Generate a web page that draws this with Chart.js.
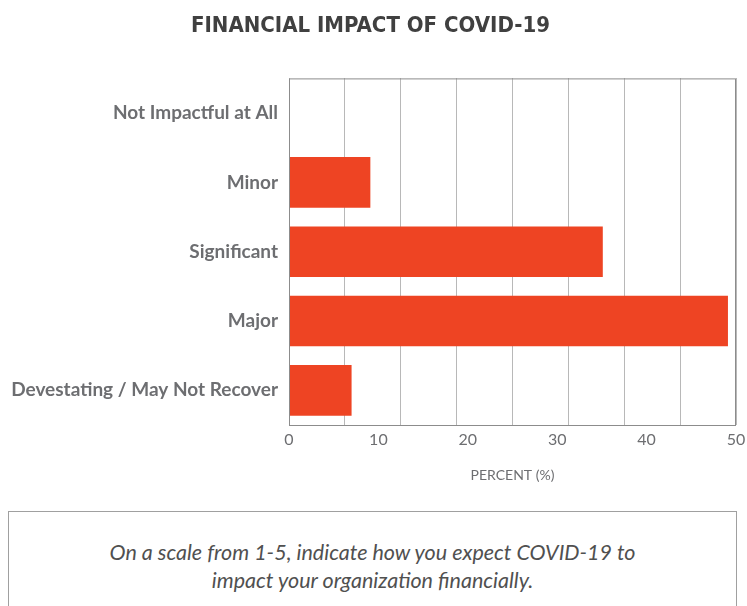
<!DOCTYPE html>
<html>
<head>
<meta charset="utf-8">
<script src="https://cdn.jsdelivr.net/npm/chart.js@4/dist/chart.umd.min.js"></script>
<style>
  body { margin: 0; background: #fff; }
  #wrap { position: relative; width: 747px; height: 606px; overflow: hidden; }
  #chart { position: absolute; left: 0; top: 0; }
  #note {
    position: absolute; left: 8px; top: 511px; width: 729px; height: 120px;
    border: 1px solid #a0a0a0; box-sizing: border-box;
    font-family: Lato, sans-serif; font-style: italic; font-size: 21.5px;
    color: #505050; text-align: center; line-height: 28px; padding-top: 26px;
  }
</style>
</head>
<body>
<div id="wrap">
  <canvas id="chart" width="747" height="500"></canvas>
  <div id="note">On a scale from 1-5, indicate how you expect COVID-19 to<br>impact your organization financially.</div>
</div>
<script>
const categories = ['Not Impactful at All', 'Minor', 'Significant', 'Major', 'Devestating / May Not Recover'];
const percents = [0, 9.1, 35.1, 49.1, 7.0];
const axisTicks = [0, 10, 20, 30, 40, 50];

const grey = '#6d6e71';

// frame around the plot area
const frame = {
  id: 'frame',
  afterDraw(chart) {
    const a = chart.chartArea, c = chart.ctx;
    c.save();
    c.strokeStyle = '#8c8c8c';
    c.lineWidth = 1;
    c.strokeRect(a.left + 0.5, a.top + 0.5, a.right - a.left - 1, a.bottom - a.top);
    c.restore();
  }
};

new Chart(document.getElementById('chart'), {
  type: 'bar',
  data: {
    labels: categories,
    datasets: [{
      data: percents,
      backgroundColor: '#ee4423',
      barPercentage: 0.73,
      categoryPercentage: 1
    }]
  },
  options: {
    indexAxis: 'y',
    responsive: false,
    animation: false,
    layout: { padding: { left: 5, right: 11, top: 0, bottom: 0 } },
    plugins: {
      legend: { display: false },
      tooltip: { enabled: false },
      title: {
        display: true,
        text: 'FINANCIAL IMPACT OF COVID-19',
        color: '#404040',
        font: { family: "'Liberation Sans Narrow', 'DejaVu Sans Condensed', sans-serif", size: 22, weight: 'bold' },
        padding: { top: 13, bottom: 39 }
      }
    },
    scales: {
      x: {
        position: 'bottom',
        min: 0, max: 50,
        afterBuildTicks: s => { s.ticks = axisTicks.map(v => ({ value: v })); },
        grid: { display: false },
        border: { display: false },
        ticks: { color: grey, padding: -3, font: { family: 'Lato, sans-serif', size: 16 } },
        title: {
          display: true, text: 'PERCENT (%)', color: grey,
          font: { family: 'Lato, sans-serif', size: 14 },
          padding: { top: 0, bottom: 16 }
        },
        afterFit: s => { s.height = 75; }
      },
      xg: {
        position: 'top',
        min: 0, max: 50,
        ticks: { display: false, stepSize: 6.25 },
        grid: { color: '#b8b8b8', drawTicks: false },
        border: { display: false }
      },
      y: {
        grid: { display: false, drawTicks: false },
        border: { display: false },
        ticks: { color: grey, padding: 11, font: { family: 'Lato, sans-serif', size: 19, weight: 'bold' } },
        afterFit: s => { s.width = 284; }
      }
    }
  },
  plugins: [frame]
});
</script>
</body>
</html>
